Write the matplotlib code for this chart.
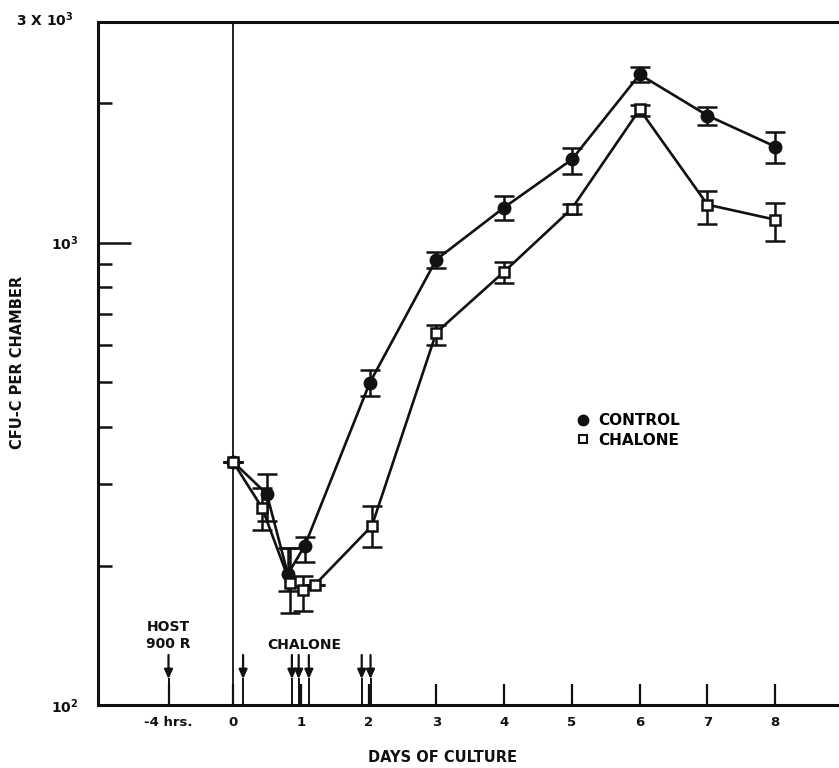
import numpy as np
import matplotlib
matplotlib.use("Agg")
import matplotlib.pyplot as plt

# ---- data -------------------------------------------------------------
control_days = [0.0, 0.5, 0.81, 1.06, 2.02, 3.0, 4.0, 5.0, 6.0, 7.0, 8.0]
control_cfu = [336, 286, 192, 221, 498, 919, 1191, 1513, 2310, 1883, 1613]
control_low = [336, 250, 176, 204, 466, 883, 1121, 1410, 2230, 1792, 1490]
control_high = [336, 316, 219, 231, 531, 956, 1264, 1598, 2392, 1969, 1738]

chalone_days = [0.0, 0.43, 0.84, 1.03, 1.21, 2.05, 3.0, 4.0, 5.0, 6.0, 7.0, 8.0]
chalone_cfu = [336, 267, 184, 177, 182, 244, 639, 865, 1185, 1941, 1208, 1121]
chalone_low = [336, 239, 158, 160, 182, 220, 602, 819, 1156, 1883, 1099, 1009]
chalone_high = [336, 295, 219, 190, 182, 270, 664, 909, 1214, 1980, 1290, 1221]

tick_positions = [-0.95, 0, 1, 2, 3, 4, 5, 6, 7, 8]
tick_labels = ["-4 hrs.", "0", "1", "2", "3", "4", "5", "6", "7", "8"]

host_day = -0.95
chalone_doses = [0.15, 0.87, 0.97, 1.12, 1.9, 2.03]

# ---- figure -----------------------------------------------------------
plt.rcParams["font.family"] = ["DejaVu Sans"]
plt.rcParams["font.weight"] = "bold"
W, H = 839, 768
fig = plt.figure(figsize=(W / 100, H / 100), dpi=100)
ax = fig.add_axes([98 / W, 63 / H, 741 / W, 683 / H])

ax.set_yscale("log")
ax.set_ylim(100, 3000)
ax.set_xlim(-1.99, 8.94)

ink = "#111111"


def err(vals, lo, hi):
    v = np.array(vals, float)
    return np.vstack([v - np.array(lo, float), np.array(hi, float) - v])


ax.errorbar(control_days, control_cfu, yerr=err(control_cfu, control_low, control_high),
            fmt="-o", color=ink, lw=1.9, ms=9, mfc=ink, mec=ink,
            ecolor=ink, elinewidth=1.8, capsize=7, capthick=1.8, zorder=3)
ax.errorbar(chalone_days, chalone_cfu, yerr=err(chalone_cfu, chalone_low, chalone_high),
            fmt="-s", color=ink, lw=1.9, ms=7.5, mfc="white", mec=ink, mew=1.8,
            ecolor=ink, elinewidth=1.8, capsize=7, capthick=1.8, zorder=3)

# time zero line
ax.axvline(0, color=ink, lw=1.3, zorder=1)

# spines
for side in ("left", "bottom", "top"):
    ax.spines[side].set_linewidth(2.2)
    ax.spines[side].set_color(ink)
ax.spines["right"].set_visible(False)

# y ticks: inward, long major at 10^3, minor at each multiple
ax.yaxis.set_major_locator(matplotlib.ticker.FixedLocator([100, 1000]))
ax.yaxis.set_minor_locator(matplotlib.ticker.LogLocator(base=10, subs=np.arange(2, 10), numticks=20))
ax.yaxis.set_minor_formatter(matplotlib.ticker.NullFormatter())
ax.set_yticks([100, 1000])
ax.set_yticklabels(["10$^2$", "10$^3$"], fontsize=10, fontweight="bold")
ax.tick_params(axis="y", which="major", direction="in", length=24, width=1.8, pad=-2, colors=ink)
ax.tick_params(axis="y", which="minor", direction="in", length=10, width=1.8, colors=ink)
for lab in ax.get_yticklabels():
    lab.set_x(-0.03)

ax.set_xticks(tick_positions)
ax.set_xticklabels(tick_labels, fontsize=9.5, fontweight="bold")
ax.tick_params(axis="x", which="major", direction="in", length=15, width=1.6, pad=8, colors=ink)
ax.tick_params(axis="x", which="minor", length=0)

fig.text(16 / W, 1 - 20 / H, "3 X 10$^3$", ha="left", va="center",
         fontsize=10, fontweight="bold", color=ink)

ax.set_xlabel("DAYS OF CULTURE", fontsize=10.5, fontweight="bold", labelpad=12, color=ink)
ax.xaxis.set_label_coords((443 - 98) / 741, -0.066)
fig.text(18 / W, 1 - 362 / H, "CFU-C PER CHAMBER", rotation=90, ha="center", va="center",
         fontsize=10.5, fontweight="bold", color=ink)

# dosing arrows
trans = ax.get_xaxis_transform()
arrow_top, arrow_tip = (705 - 655) / 683, (705 - 679) / 683
for d in [host_day] + chalone_doses:
    ax.annotate("", xy=(d, arrow_tip), xytext=(d, arrow_top), xycoords=trans, textcoords=trans,
                arrowprops=dict(arrowstyle="-|>,head_length=0.55,head_width=0.25",
                                color=ink, lw=1.6, shrinkA=0, shrinkB=0))
    ax.plot([d, d], [0, arrow_tip], transform=trans, color=ink, lw=1.4, clip_on=False)

ax.text(host_day, (705 - 627) / 683, "HOST", transform=trans, ha="center", va="center",
        fontsize=10, fontweight="bold", color=ink)
ax.text(host_day, (705 - 644) / 683, "900 R", transform=trans, ha="center", va="center",
        fontsize=10, fontweight="bold", color=ink)
ax.text(1.05, (705 - 645) / 683, "CHALONE", transform=trans, ha="center", va="center",
        fontsize=10, fontweight="bold", color=ink)

# legend
ax.plot([], [], "o", color=ink, ms=7.5, label="CONTROL")
ax.plot([], [], "s", mfc="white", mec=ink, mew=1.5, ms=6, label="CHALONE")
h, l = ax.get_legend_handles_labels()
leg = ax.legend(h[-2:], l[-2:], loc="upper left", bbox_to_anchor=((577 - 98) / 741, (705 - 413) / 683),
                frameon=False, handlelength=0.8, handletextpad=0.6, labelspacing=0.3,
                borderaxespad=0, borderpad=0, prop=dict(size=11, weight="bold"))

fig.savefig("out.png", dpi=100, facecolor="white")
